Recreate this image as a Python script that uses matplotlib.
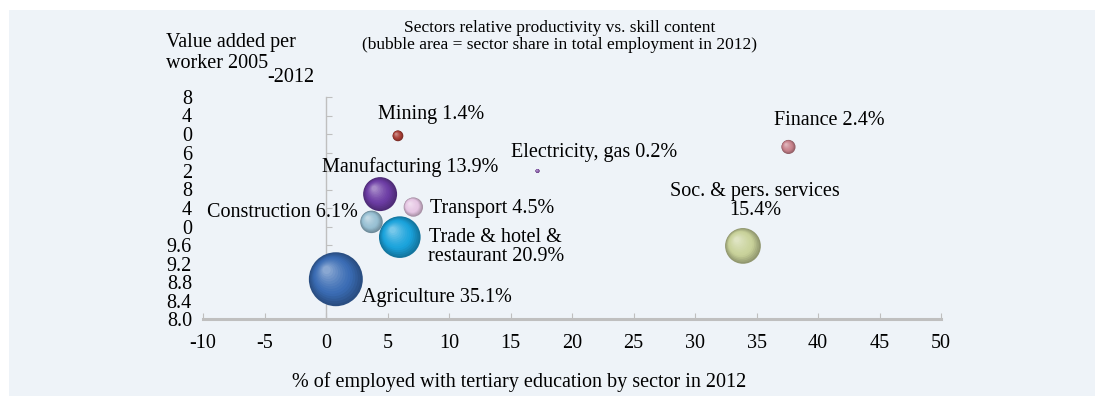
import numpy as np
import matplotlib
matplotlib.use("Agg")
import matplotlib.pyplot as plt
from matplotlib.patches import Rectangle
from matplotlib import transforms
from matplotlib.colors import to_rgb

plt.rcParams['font.family'] = ['Liberation Serif', 'DejaVu Serif']
plt.rcParams['axes.unicode_minus'] = False

# data
labels = ["Agriculture 35.1%", "Trade & hotel &\nrestaurant 20.9%", "Soc. & pers. services\n15.4%",
          "Manufacturing 13.9%", "Construction 6.1%", "Transport 4.5%",
          "Finance 2.4%", "Mining 1.4%", "Electricity, gas 0.2%"]
tertiary = [0.8, 6.0, 33.9, 4.4, 3.7, 7.1, 37.6, 5.85, 17.2]
productivity = [8.86, 9.77, 9.58, 10.70, 10.10, 10.42, 11.72, 11.96, 11.20]
shares = [35.1, 20.9, 15.4, 13.9, 6.1, 4.5, 2.4, 1.4, 0.2]
colors = ['#3A6CB4', '#1AA3DC', '#C9D29A', '#6C3CA4', '#98C0D4', '#E6C6E4',
          '#C9838D', '#A83E36', '#8A5CAC']

xticks = [-10, -5, 0, 5, 10, 15, 20, 25, 30, 35, 40, 45, 50]
yticks = [8.0, 8.4, 8.8, 9.2, 9.6, 10.0, 10.4, 10.8, 11.2, 11.6, 12.0, 12.4, 12.8]
# the y tick labels are cut off in the original
ytick_labels = ["8.0", "8.4", "8.8", "9.2", "9.6", "0", "4", "8", "2", "6", "0", "4", "8"]

# label placement (pixels from bubble centre, screen y down), alignment
label_pos = [(26, 18, 'left'), (96, 10, 'center'), (12, -45, 'center'),
             (30, -27, 'center'), (-14, -9, 'right'), (17, 1, 'left'),
             (41, -26, 'center'), (33, -21, 'center'), (57, -19, 'center')]

FS = 14.5
W, H = 1095, 396
fig = plt.figure(figsize=(W / 100, H / 100), dpi=100)
fig.patch.set_facecolor('white')
fig.patches.append(Rectangle((9 / W, 0), 1 - 9 / W, 1 - 10 / H, transform=fig.transFigure,
                             facecolor='#EEF3F8', edgecolor='none', zorder=-1))

ax = fig.add_axes([203 / W, 77 / H, 738 / W, 222 / H])
ax.set_facecolor('none')
ax.set_xlim(-10, 50)
ax.set_ylim(8.0, 12.8)

for s in ['top', 'right', 'left']:
    ax.spines[s].set_visible(False)
ax.spines['bottom'].set_color('#BFBFBF')
ax.spines['bottom'].set_linewidth(2.2)

ax.set_xticks(xticks)
ax.set_xticklabels([str(v) for v in xticks])
ax.set_yticks(yticks)
ax.set_yticklabels(ytick_labels)
ax.tick_params(axis='x', direction='in', length=4.5, width=0.8, color='#BFBFBF',
               pad=11, labelsize=FS)
ax.tick_params(axis='y', length=0, pad=8, labelsize=FS)

# vertical axis line sits at x = 0
sec = ax.secondary_yaxis(10 / 60)
sec.set_alignment('left')
sec.set_yticks(yticks)
sec.set_yticklabels([])
sec.tick_params(direction='in', length=4, width=0.8, color='#BFBFBF')
sec.spines['left'].set_color('#BFBFBF')
sec.spines['left'].set_linewidth(1)


def draw_ball(x, y, size, color):
    base = np.array(to_rgb(color))
    dark = base * 0.72
    light = base + (1 - base) * 0.4
    R = np.sqrt(size) / 2
    n = 14
    for i in range(n):
        t = i / (n - 1)
        rf = 1 - 0.85 * t
        if t < 0.35:
            col = dark + (base - dark) * (t / 0.35)
        else:
            col = base + (light - base) * ((t - 0.35) / 0.65) ** 1.3
        off = (1 - rf) * R * 0.4
        tr = transforms.offset_copy(ax.transData, fig=fig, x=-off, y=off, units='points')
        ax.scatter([x], [y], s=size * rf ** 2, color=col, edgecolors='none',
                   transform=tr, zorder=3 + i * 0.01)


for xv, yv, sh, c in zip(tertiary, productivity, shares, colors):
    draw_ball(xv, yv, 43 * sh, c)

for lab, xv, yv, (dx, dy, ha) in zip(labels, tertiary, productivity, label_pos):
    ax.annotate(lab, xy=(xv, yv), xytext=(dx * 0.72, -dy * 0.72), textcoords='offset points',
                ha=ha, va='center', fontsize=FS, multialignment='center', zorder=5,
                linespacing=0.95)

fig.text(560 / W, 1 - 28 / H, "Sectors relative productivity vs. skill content",
         ha='center', va='center', fontsize=12.5)
fig.text(560 / W, 1 - 45 / H, "(bubble area = sector share in total employment in 2012)",
         ha='center', va='center', fontsize=12.5)
fig.text(166 / W, 1 - 42 / H, "Value added per", ha='left', va='center', fontsize=FS)
fig.text(166 / W, 1 - 63 / H, "worker 2005", ha='left', va='center', fontsize=FS)
fig.text(267 / W, 1 - 77 / H, "-2012", ha='left', va='center', fontsize=FS)
fig.text(519 / W, 1 - 382 / H, "% of employed with tertiary education by sector in 2012",
         ha='center', va='center', fontsize=FS)

plt.savefig("out.png", dpi=100, facecolor=fig.get_facecolor())
